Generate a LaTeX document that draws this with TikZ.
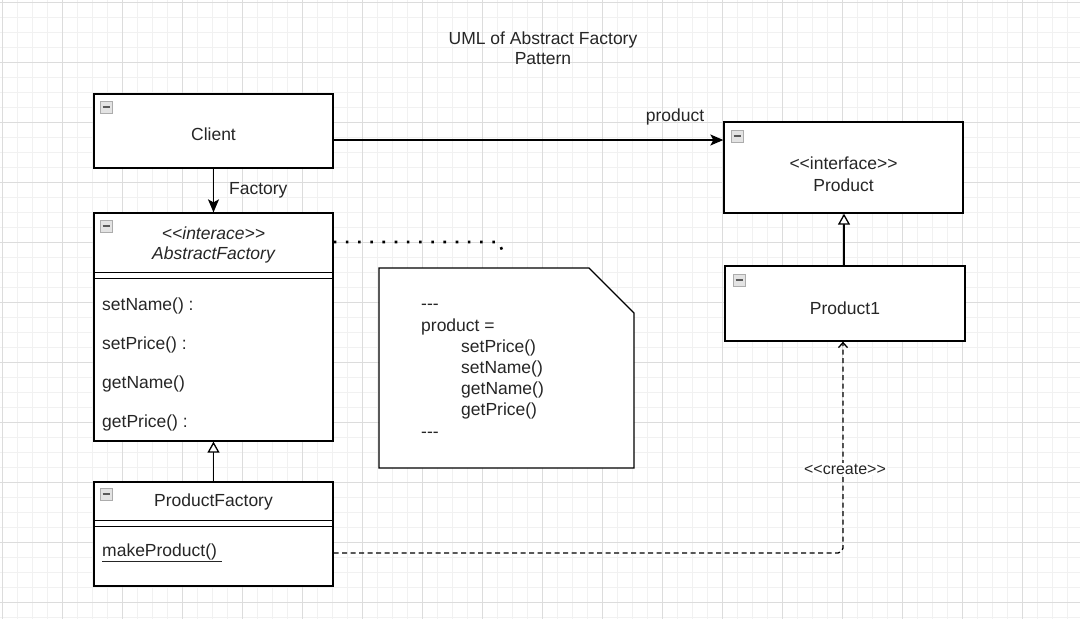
\documentclass[tikz,border=0pt]{standalone}
\usepackage{fontspec}
\setmainfont{Liberation Sans}[Ligatures=TeXOff]
\usetikzlibrary{arrows.meta}
\definecolor{gridminor}{HTML}{F1F1F1}
\definecolor{gridmajor}{HTML}{DCDCDC}

\begin{document}
\begin{tikzpicture}[
  x=1pt, y=-1pt,
  every node/.style={font=\fontsize{17.5}{21}\selectfont, inner sep=0pt, text=black!85},
  umlbox/.style={draw, line width=1.3pt, fill=white, minimum width=239pt},
  collapse/.style={draw=gray!65, fill=gray!22, line width=0.6pt, minimum size=12pt,
    path picture={\draw[line width=1.8pt, black!65] ([xshift=2.5pt]path picture bounding box.west) -- ([xshift=-2.5pt]path picture bounding box.east);}},
  assoc/.style={line width=1.3pt, -{Stealth[length=13pt, width=11pt, inset=3pt]}},
  inherit/.style={line width=1.3pt, -{Triangle[open, length=11pt, width=12pt, fill=white]}},
  create/.style={line width=1.3pt, dash pattern=on 5pt off 3.5pt, rounded corners=5pt, -{Straight Barb[length=5pt, width=9pt]}},
  notelink/.style={line width=2.6pt, dash pattern=on 2.6pt off 9.6pt}
]
\useasboundingbox (0,0) rectangle (1080,619);
\fill[white] (0,0) rectangle (1080,619);

% grid
\foreach \gx in {2,17,...,1080} \draw[gridminor, line width=1pt] (\gx,0) -- (\gx,619);
\foreach \gy in {2,17,...,619} \draw[gridminor, line width=1pt] (0,\gy) -- (1080,\gy);
\foreach \gx in {2,62,...,1080} \draw[gridmajor, line width=1pt] (\gx,0) -- (\gx,619);
\foreach \gy in {2,62,...,619} \draw[gridmajor, line width=1pt] (0,\gy) -- (1080,\gy);

% title
\node[align=center, font=\fontsize{17.5}{20.5}\selectfont] (title) at (543,48) {UML of Abstract Factory\\Pattern};

% classes
\node[umlbox, minimum height=74pt] (client) at (213.5,131) {};
\node (clientname) at (213.5,134) {Client};
\node[collapse] (clienticon) at (106,107) {};

\node[umlbox, minimum height=228pt] (absfactory) at (213.5,327) {};
\node[font=\fontsize{17.5}{21}\itshape] (absstereo) at (213.5,233) {<<interace>>};
\node[font=\fontsize{17.5}{21}\itshape] (absname) at (213.5,255) {AbstractFactory};
\node[collapse] (absicon) at (106,226) {};
\draw[line width=1.3pt] ([yshift=-60pt]absfactory.north west) -- ([yshift=-60pt]absfactory.north east);
\draw[line width=1.3pt] ([yshift=-66pt]absfactory.north west) -- ([yshift=-66pt]absfactory.north east);
\node[anchor=west] (setname) at (102,306) {setName() :};
\node[anchor=west] (setprice) at (102,345) {setPrice() :};
\node[anchor=west] (getname) at (102,384) {getName()};
\node[anchor=west] (getprice) at (102,423) {getPrice() :};

\node[umlbox, minimum height=104pt] (prodfactory) at (213.5,534) {};
\node (prodfactoryname) at (213.5,502) {ProductFactory};
\node[collapse] (prodfactoryicon) at (106,494) {};
\draw[line width=1.3pt] ([yshift=-39pt]prodfactory.north west) -- ([yshift=-39pt]prodfactory.north east);
\draw[line width=1.3pt] ([yshift=-45pt]prodfactory.north west) -- ([yshift=-45pt]prodfactory.north east);
\node[anchor=west] (makeproduct) at (102,553) {\underline{makeProduct()\ }};

\node[umlbox, minimum height=91pt] (product) at (843.5,167.5) {};
\node (productstereo) at (843.5,163) {<<interface>>};
\node (productname) at (843.5,185) {Product};
\node[collapse] (producticon) at (737,136) {};

\node[umlbox, minimum width=240pt, minimum height=75pt] (product1) at (845,303.5) {};
\node (product1name) at (845,308) {Product1};
\node[collapse] (product1icon) at (739,280) {};

% note
\draw[line width=1.3pt, fill=white] (379,268) -- (589,268) -- (634,313) -- (634,468) -- (379,468) -- cycle;
\node[align=left, anchor=base west, font=\fontsize{17.5}{21.17}\selectfont] (notetext) at (421,437)
  {---\\product =\\\hspace*{40pt}setPrice()\\\hspace*{40pt}setName()\\\hspace*{40pt}getName()\\\hspace*{40pt}getPrice()\\---};
\coordinate (noteend) at (505,258);

% connectors
\draw[assoc] (client.south) -- (absfactory.north) node[midway, right=15pt] (factorylabel) {Factory};
\draw[assoc] ([yshift=-9pt]client.east) -- ([yshift=-9pt]client.east -| product.west);
\node (productlabel) at (675,117) {product};
\draw[inherit] (prodfactory.north) -- (absfactory.south);
\draw[inherit] ([xshift=-1pt]product1.north) -- ([xshift=-1pt]product1.north |- product.south);
\draw[create] ([yshift=-19pt]prodfactory.east) -| ([xshift=-2pt]product1.south);
\node[fill=white, inner sep=1pt, font=\fontsize{16}{19}\selectfont] (createlabel) at (845,469) {<<create>>};
\draw[notelink] ([yshift=85pt]absfactory.east) -- (499,242) -- (noteend);
\end{tikzpicture}
\end{document}
